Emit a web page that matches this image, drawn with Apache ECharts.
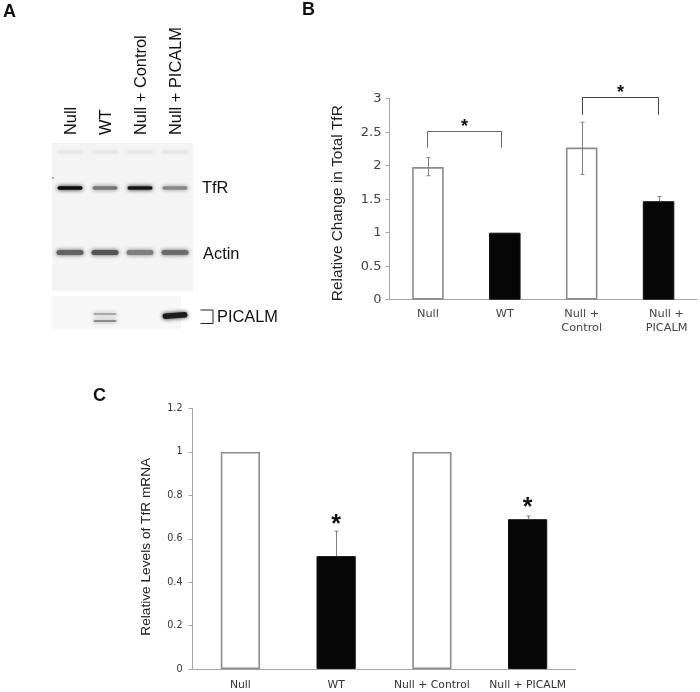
<!DOCTYPE html>
<html><head><meta charset="utf-8">
<style>html,body{margin:0;padding:0;background:#fff}#c{width:700px;height:692px}</style>
<script src="https://cdn.jsdelivr.net/npm/echarts@6/dist/echarts.min.js"></script>
</head><body><div id="c"></div>
<script>
// Panel A: western blot lanes and band strengths (0..1, estimated)
const laneLabels = ['Null','WT','Null + Control','Null + PICALM'];
const tfrBands = [0.95,0.5,0.9,0.42];
const actinBands = [0.58,0.64,0.46,0.54];
const picalmUpperBands = [0,0.28,0,0];
const picalmLowerBands = [0,0.4,0,0];
const picalmMainBands = [0,0,0,0.88];
const faintBands = [0.02,0.02,0.02,0.02];
// Panel B
const bCategories = ['Null','WT','Null +\nControl','Null +\nPICALM'];
const bValues = [1.98,1.0,2.27,1.47];
const bErrLow = [1.85,null,1.87,null];
const bErrHigh = [2.12,null,2.65,1.54];
const bBracketNullWT = [0,1,2.52,2.27];
const bBracketCtrlPic = [2,3,3.02,2.76];
// Panel C
const cCategories = ['Null','WT','Null + Control','Null + PICALM'];
const cValues = [1.0,0.52,1.0,0.69];
const cErrHigh = [null,0.635,null,0.705];
const cStars = [[1,0.665],[3,0.74]];

const LAB='"DejaVu Sans"', ARIAL='"Liberation Sans"';
const AX='#a6a6a6';
const barData = (vals)=>vals.map((v,i)=>({value:v,itemStyle:i%2
  ?{color:'#060606',borderColor:'#111',borderWidth:1}
  :{color:'#fff',borderColor:'#8c8c8c',borderWidth:1.6}}));

function errSeries(ax, vals, low, high){
  const data = high.map((h,i)=>[i, low&&low[i]!=null?low[i]:vals[i], h==null?NaN:h, low&&low[i]!=null?1:0]).filter(d=>!isNaN(d[2]));
  return {type:'custom',xAxisIndex:ax,yAxisIndex:ax,z:5,silent:true,encode:{x:0,y:2},data,
    renderItem(p,api){
      const i=api.value(0),lo=api.value(1),hi=api.value(2),hasLow=api.value(3);
      const x=Math.round(api.coord([i,0])[0])+0.5;
      const yHi=api.coord([i,hi])[1];
      const yB=api.coord([i,lo])[1];
      const st={stroke:'#808080',lineWidth:1};
      const kids=[{type:'line',shape:{x1:x,y1:yHi,x2:x,y2:yB},style:st},
        {type:'line',shape:{x1:x-2,y1:yHi,x2:x+2,y2:yHi},style:st}];
      if(hasLow)kids.push({type:'line',shape:{x1:x-2,y1:yB,x2:x+2,y2:yB},style:st});
      return {type:'group',children:kids};
    }};
}
function bracketSeries(b, col, dl, dr){
  return {type:'custom',xAxisIndex:1,yAxisIndex:1,z:6,silent:true,encode:{x:0,y:2},
    data:[b],
    renderItem(p,api){
      const a=api.coord([api.value(0),api.value(2)]);
      const c=api.coord([api.value(1),api.value(2)]);
      const d=api.coord([api.value(0),api.value(3)]);
      const l=Math.round(a[0]+dl)-0.5,r=Math.round(c[0]+dr)-0.5,t=Math.round(a[1])+0.5;
      return {type:'group',children:[
        {type:'polyline',shape:{points:[[l,d[1]],[l,t],[r,t],[r,d[1]]]},style:{fill:null,stroke:col,lineWidth:1}},
        {type:'text',style:{x:(l+r)/2,y:t-4,text:'*',font:'bold 18px '+ARIAL,fill:'#111',align:'center',verticalAlign:'middle'}}
      ]};
    }};
}
function starSeries(){
  return {type:'custom',xAxisIndex:2,yAxisIndex:2,z:6,silent:true,encode:{x:0,y:1},data:cStars,
    renderItem(p,api){const q=api.coord([api.value(0),api.value(1)]);
      return {type:'text',style:{x:q[0],y:q[1],text:'*',font:'bold 25px '+ARIAL,fill:'#111',align:'center',verticalAlign:'middle'}};}};
}
function bandSeries(vals,y,w,h,rot){
  return {type:'custom',xAxisIndex:0,yAxisIndex:0,z:4,silent:true,encode:{x:0,y:1},
    data:vals.map((v,i)=>[i,v]).filter(d=>d[1]>0),
    renderItem(p,api){
      const x=api.coord([api.value(0),0])[0]-1;
      const g=Math.round(235*(1-api.value(1)));
      const c=`rgb(${g},${g},${g})`;
      return {type:'rect',x:x,y:y,originX:0,originY:0,rotation:rot||0,
        shape:{x:-w/2,y:-h/2,width:w,height:h,r:h/2},
        style:{fill:c,shadowColor:c,shadowBlur:4}};
    }};
}
const txt=(t,x,y,size,extra)=>({type:'text',x,y,z:10,style:Object.assign({text:t,font:size+'px '+ARIAL,fill:'#111',verticalAlign:'middle'},extra||{})});

const option={
  animation:false,backgroundColor:'#fff',
  graphic:[
    {type:'rect',z:0,shape:{x:52,y:143,width:141,height:148},style:{fill:'#f4f4f4'}},
    {type:'rect',z:0,shape:{x:52,y:296,width:129,height:33},style:{fill:'#f7f7f7'}},
    {type:'circle',z:1,shape:{cx:53,cy:178,r:0.8},style:{fill:'#555'}},
    txt('TfR',202,188,16.4), txt('Actin',203,254,16.4), txt('PICALM',217,317,16.4),
    {type:'polyline',z:10,shape:{points:[[200.5,310],[213,310],[213,323.5],[200.5,323.5]]},style:{fill:null,stroke:'#222',lineWidth:1}},
    {type:'text',x:3,y:12,z:10,style:{text:'A',font:'bold 18px '+ARIAL,fill:'#111',verticalAlign:'middle'}},
    {type:'text',x:302,y:10,z:10,style:{text:'B',font:'bold 18px '+ARIAL,fill:'#111',verticalAlign:'middle'}},
    {type:'text',x:93,y:396,z:10,style:{text:'C',font:'bold 18px '+ARIAL,fill:'#111',verticalAlign:'middle'}}
  ],
  grid:[
    {left:53.5,top:143,width:140,height:186},
    {left:389.5,top:98.7,width:307.5,height:201},
    {left:192.5,top:408.5,width:383,height:260.5}
  ],
  xAxis:[
    {gridIndex:0,type:'category',position:'top',data:laneLabels,
     axisLine:{show:false},axisTick:{show:false},
     axisLabel:{rotate:90,margin:8,interval:0,fontFamily:ARIAL,fontSize:16.4,color:'#111'}},
    {gridIndex:1,type:'category',data:bCategories,
     axisLine:{lineStyle:{color:AX,width:1}},axisTick:{length:4,lineStyle:{color:AX}},
     axisLabel:{interval:0,margin:7,fontFamily:LAB,fontSize:11.3,lineHeight:14.5,color:'#444',
       formatter:(v,i)=>i===3?v.split('\n').map(s=>'{p|'+s+'}').join('\n'):v,
       rich:{p:{fontFamily:LAB,fontSize:11.3,lineHeight:14.5,color:'#444',padding:[0,0,0,16]}}}},
    {gridIndex:2,type:'category',data:cCategories,
     axisLine:{lineStyle:{color:AX,width:1}},axisTick:{length:3,lineStyle:{color:AX}},
     axisLabel:{interval:0,margin:11,fontFamily:LAB,fontSize:10.8,color:'#333'}}
  ],
  yAxis:[
    {gridIndex:0,type:'value',min:0,max:1,show:false},
    {gridIndex:1,type:'value',min:0,max:3,interval:0.5,splitLine:{show:false},
     axisLine:{show:true,lineStyle:{color:AX}},axisTick:{show:true,length:4,lineStyle:{color:AX}},
     axisLabel:{margin:8,fontFamily:LAB,fontSize:13,color:'#444'},
     name:'Relative Change in Total TfR',nameLocation:'middle',nameGap:44,
     nameTextStyle:{fontFamily:ARIAL,fontSize:15.4,color:'#222',padding:[0,8,0,0]}},
    {gridIndex:2,type:'value',min:0,max:1.2,interval:0.2,splitLine:{show:false},
     axisLine:{show:true,lineStyle:{color:AX}},axisTick:{show:true,length:4,lineStyle:{color:AX}},
     axisLabel:{margin:10,fontFamily:LAB,fontSize:9.6,color:'#333'},
     name:'Relative Levels of TfR mRNA',nameLocation:'middle',nameGap:39,
     nameTextStyle:{fontFamily:ARIAL,fontSize:13.7,color:'#222',padding:[0,16,0,0]}}
  ],
  series:[
    bandSeries(faintBands,152,26,3),
    bandSeries(tfrBands,188,25,3.4),
    bandSeries(actinBands,252.5,27,5),
    bandSeries(picalmUpperBands,314,23,1.8),
    bandSeries(picalmLowerBands,321,23,2.2),
    bandSeries(picalmMainBands,315.5,25,5.5,0.07),
    {type:'bar',xAxisIndex:1,yAxisIndex:1,barWidth:'41%',data:barData(bValues),z:3},
    errSeries(1,bValues,bErrLow,bErrHigh),
    bracketSeries(bBracketNullWT,'#666',0,-3),
    bracketSeries(bBracketCtrlPic,'#444',1.5,0),
    {type:'bar',xAxisIndex:2,yAxisIndex:2,barWidth:'41%',data:barData(cValues),z:3},
    errSeries(2,cValues,null,cErrHigh),
    starSeries()
  ]
};
echarts.init(document.getElementById('c'),null,{renderer:'canvas'}).setOption(option);
</script></body></html>
